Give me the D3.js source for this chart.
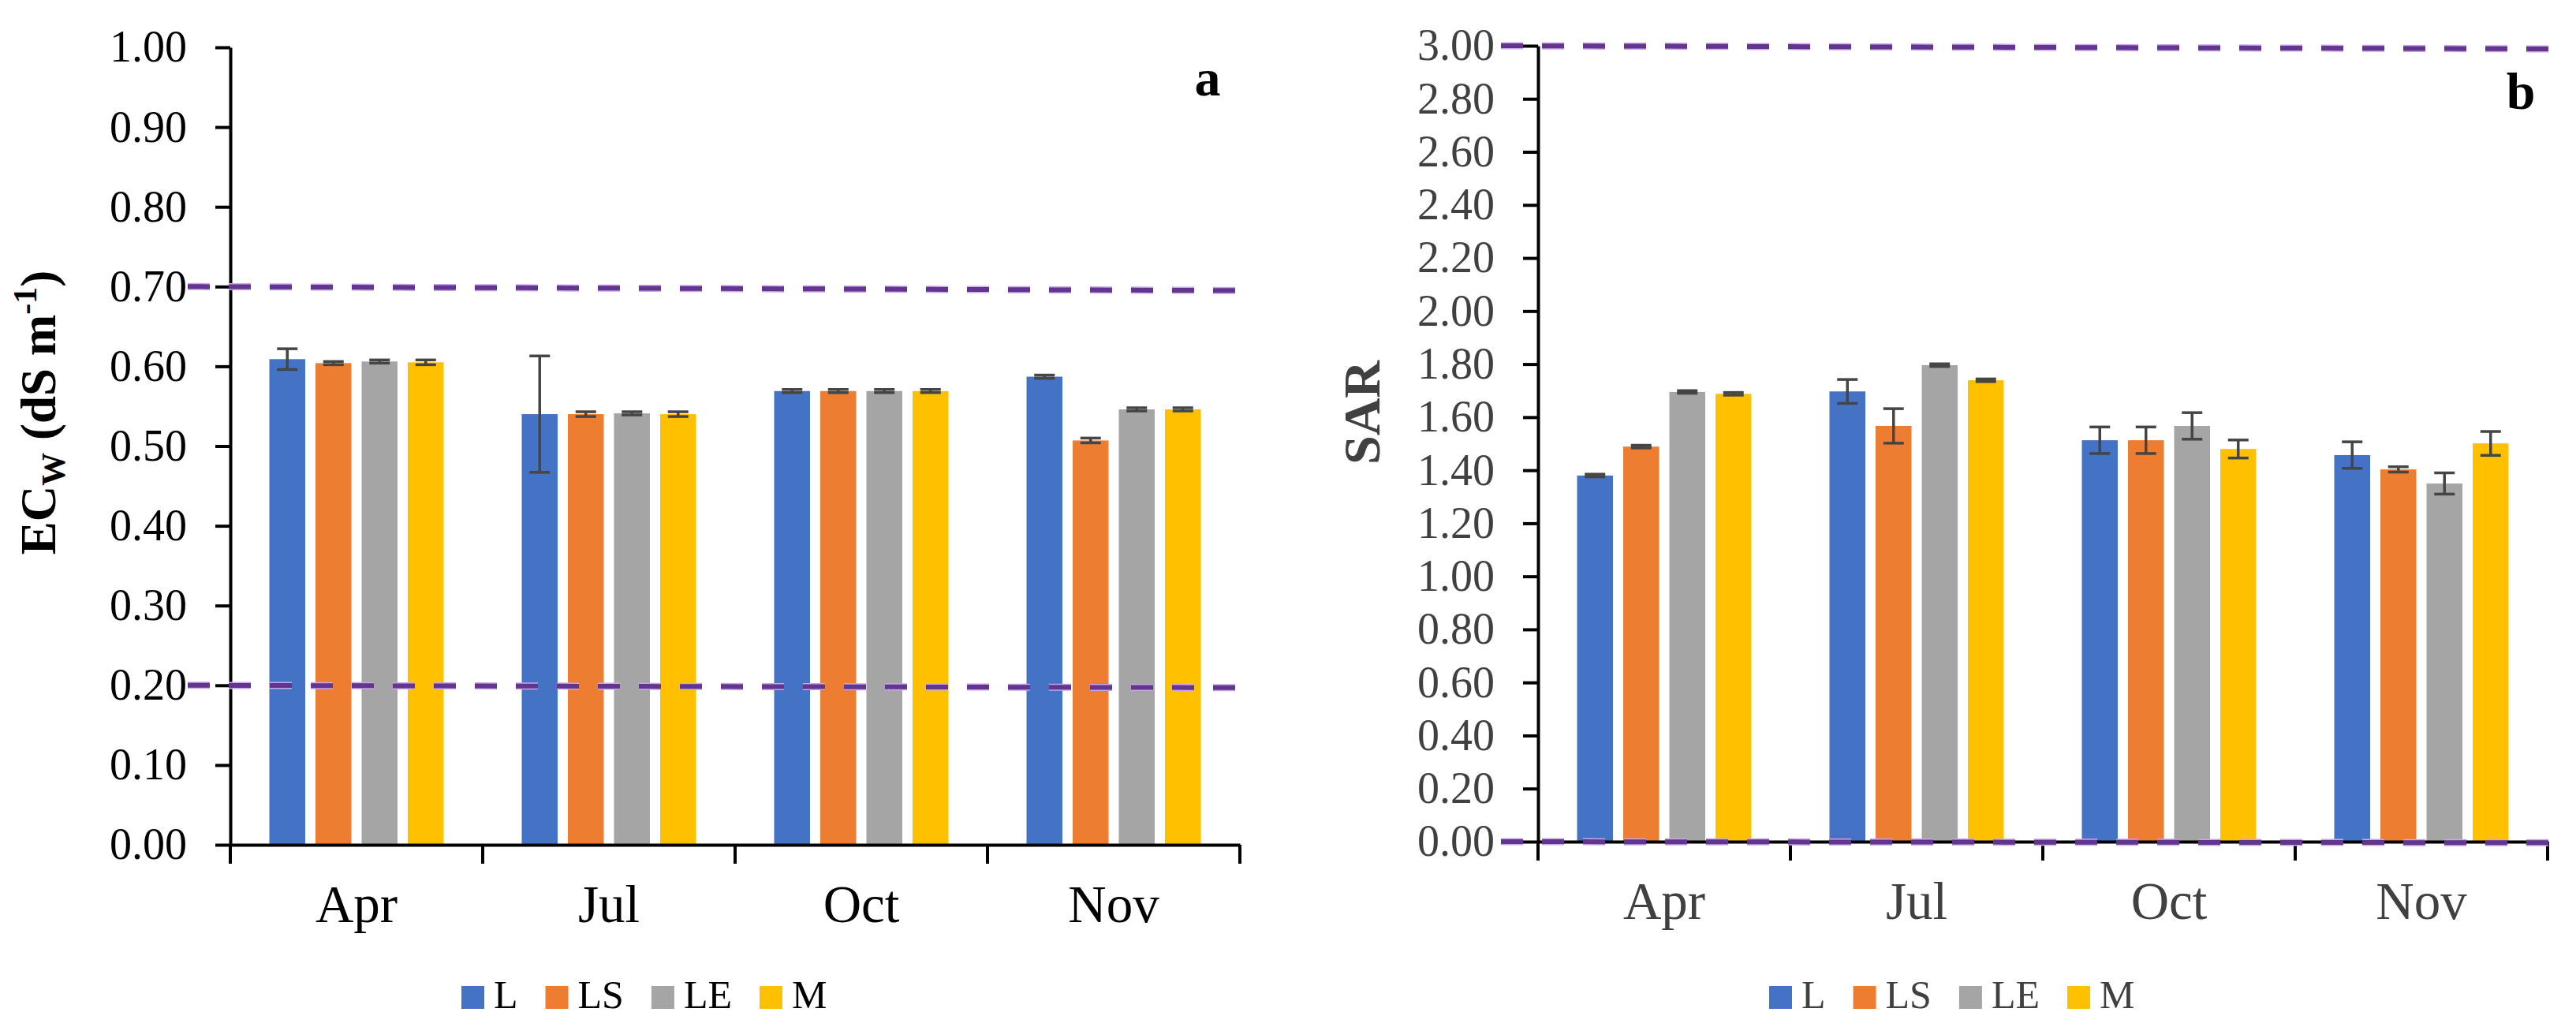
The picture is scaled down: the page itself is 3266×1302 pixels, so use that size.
<!DOCTYPE html>
<html>
<head>
<meta charset="utf-8">
<script src="https://cdn.jsdelivr.net/npm/d3@7"></script>
<style>
  html, body { margin: 0; padding: 0; background: #fff; }
  svg { display: block; }
  text { font-family: "Liberation Serif", "Times New Roman", serif; }
</style>
</head>
<body>
<svg id="chart" width="3266" height="1302"></svg>
<script>
// ---------- data ----------
const months = ["Apr", "Jul", "Oct", "Nov"];
const seriesNames = ["L", "LS", "LE", "M"];
const seriesColors = ["#4472C4", "#ED7D31", "#A5A5A5", "#FFC000"];

// Panel a: ECw (dS m-1)
const ecL  = [0.609, 0.540, 0.569, 0.587];
const ecLS = [0.604, 0.540, 0.569, 0.507];
const ecLE = [0.606, 0.541, 0.569, 0.546];
const ecM  = [0.605, 0.540, 0.569, 0.546];
const ecErrL  = [0.013, 0.073, 0.002, 0.002];
const ecErrLS = [0.002, 0.003, 0.002, 0.003];
const ecErrLE = [0.002, 0.002, 0.002, 0.002];
const ecErrM  = [0.003, 0.003, 0.002, 0.002];
const ecTicks = [0, 0.1, 0.2, 0.3, 0.4, 0.5, 0.6, 0.7, 0.8, 0.9, 1.0];
const ecThresholds = [[0.700, 0.695], [0.200, 0.197]];

// Panel b: SAR
const sarL  = [1.380, 1.697, 1.513, 1.457];
const sarLS = [1.489, 1.567, 1.513, 1.403];
const sarLE = [1.695, 1.796, 1.567, 1.350];
const sarM  = [1.688, 1.739, 1.480, 1.501];
const sarErrL  = [0.005, 0.045, 0.050, 0.050];
const sarErrLS = [0.005, 0.065, 0.050, 0.010];
const sarErrLE = [0.005, 0.005, 0.050, 0.040];
const sarErrM  = [0.005, 0.005, 0.034, 0.045];
const sarTicks = [0, 0.2, 0.4, 0.6, 0.8, 1.0, 1.2, 1.4, 1.6, 1.8, 2.0, 2.2, 2.4, 2.6, 2.8, 3.0];
const sarThresholds = [[3.00, 2.988], [0.00, -0.004]];

// ---------- drawing ----------
const svg = d3.select("#chart");
svg.append("rect").attr("width", 3266).attr("height", 1302).attr("fill", "#fff");

function drawPanel(cfg) {
  const g = svg.append("g");
  const x = d3.scaleBand().domain(months).range([cfg.x0, cfg.x1]).paddingInner(0).paddingOuter(0);
  const xs = d3.scaleBand().domain(seriesNames).range([0, x.bandwidth()]).paddingInner(0.222).paddingOuter(0.846);
  const y = d3.scaleLinear().domain([0, cfg.yMax]).range([cfg.yBottom, cfg.yTop]);

  const rows = [];
  seriesNames.forEach((s, si) => {
    months.forEach((m, mi) => {
      rows.push({ s, m, v: cfg.values[si][mi], e: cfg.errors[si][mi], c: seriesColors[si] });
    });
  });

  // bars
  g.selectAll("rect.bar").data(rows).enter().append("rect")
    .attr("class", "bar")
    .attr("x", d => x(d.m) + xs(d.s))
    .attr("width", xs.bandwidth())
    .attr("y", d => y(d.v))
    .attr("height", d => y(0) - y(d.v))
    .attr("fill", d => d.c);

  // error bars
  const eg = g.selectAll("g.err").data(rows).enter().append("g").attr("class", "err")
    .attr("stroke", "#454545").attr("stroke-width", 3.5);
  const cx = d => x(d.m) + xs(d.s) + xs.bandwidth() / 2;
  eg.append("line").attr("x1", cx).attr("x2", cx)
    .attr("y1", d => y(d.v + d.e)).attr("y2", d => y(d.v - d.e));
  eg.append("line").attr("x1", d => cx(d) - 13).attr("x2", d => cx(d) + 13)
    .attr("y1", d => y(d.v + d.e)).attr("y2", d => y(d.v + d.e));
  eg.append("line").attr("x1", d => cx(d) - 13).attr("x2", d => cx(d) + 13)
    .attr("y1", d => y(d.v - d.e)).attr("y2", d => y(d.v - d.e));

  // y axis
  const yAxis = d3.axisLeft(y).tickValues(cfg.ticks).tickFormat(d3.format(".2f"))
    .tickSize(19).tickSizeOuter(0).tickPadding(36);
  const ya = g.append("g").attr("transform", `translate(${cfg.x0},0)`).call(yAxis);
  ya.select(".domain").attr("stroke", "#000").attr("stroke-width", 4);
  ya.selectAll(".tick line").attr("stroke", "#000").attr("stroke-width", 4);
  ya.selectAll(".tick text").attr("font-size", 56).attr("fill", cfg.textColor)
    .attr("font-family", '"Liberation Serif", "Times New Roman", serif');

  // x axis
  const xAxis = d3.axisBottom(x).tickSize(0).tickSizeOuter(0).tickPadding(50);
  const xa = g.append("g").attr("transform", `translate(0,${y(0)})`).call(xAxis);
  xa.select(".domain").attr("stroke", "#000").attr("stroke-width", 4);
  xa.selectAll(".tick text").attr("font-size", 67).attr("fill", cfg.textColor)
    .attr("font-family", '"Liberation Serif", "Times New Roman", serif');
  // category boundary ticks
  const bounds = months.map(m => x(m)).concat([x(months[months.length - 1]) + x.bandwidth()]);
  g.selectAll("line.bound").data(bounds).enter().append("line")
    .attr("x1", d => d).attr("x2", d => d)
    .attr("y1", y(0)).attr("y2", y(0) + 24)
    .attr("stroke", "#000").attr("stroke-width", 4);

  // threshold dashed lines
  cfg.thresholds.forEach(t => {
    g.append("line")
      .attr("x1", cfg.dashX0).attr("x2", cfg.dashX1)
      .attr("y1", y(t[0])).attr("y2", y(t[1]))
      .attr("stroke", "#c7a6ea").attr("stroke-width", 9)
      .attr("stroke-dasharray", "28 24");
    g.append("line")
      .attr("x1", cfg.dashX0).attr("x2", cfg.dashX1)
      .attr("y1", y(t[0])).attr("y2", y(t[1]))
      .attr("stroke", "#62358f").attr("stroke-width", 6)
      .attr("stroke-dasharray", "28 24");
  });

  // y title
  const tt = g.append("text")
    .attr("transform", `translate(${cfg.titleX},${cfg.titleY}) rotate(-90)`)
    .attr("text-anchor", "middle")
    .attr("font-size", cfg.titleSize).attr("font-weight", "bold").attr("fill", cfg.textColor);
  cfg.title(tt);

  // panel letter
  g.append("text").attr("x", cfg.letterX).attr("y", cfg.letterY)
    .attr("text-anchor", "middle").attr("font-size", 66).attr("font-weight", "bold")
    .attr("fill", "#000").text(cfg.letter);

  // legend
  const lg = g.append("g").attr("transform", `translate(${cfg.legendX},${cfg.legendY})`);
  let cur = 0;
  seriesNames.forEach((s, i) => {
    lg.append("rect").attr("x", cur).attr("y", -28).attr("width", 29).attr("height", 29)
      .attr("fill", seriesColors[i]);
    const t = lg.append("text").attr("x", cur + 41).attr("y", 0)
      .attr("font-size", 50).attr("fill", cfg.textColor).text(s);
    cur += 41 + t.node().getComputedTextLength() + 35;
  });
}

drawPanel({
  x0: 292, x1: 1572, yTop: 60, yBottom: 1071, yMax: 1.0,
  ticks: ecTicks,
  values: [ecL, ecLS, ecLE, ecM],
  errors: [ecErrL, ecErrLS, ecErrLE, ecErrM],
  thresholds: ecThresholds,
  dashX0: 238, dashX1: 1584,
  textColor: "#000",
  titleX: 70, titleY: 523, titleSize: 63,
  title: t => {
    t.append("tspan").text("EC");
    t.append("tspan").attr("font-size", 42).attr("dy", 12).text("W");
    t.append("tspan").attr("dy", -12).text(" (dS m");
    t.append("tspan").attr("font-size", 42).attr("dy", -24).text("-1");
    t.append("tspan").attr("dy", 24).text(")");
  },
  letter: "a", letterX: 1531, letterY: 121,
  legendX: 585, legendY: 1278
});

drawPanel({
  x0: 1950, x1: 3230, yTop: 58, yBottom: 1067, yMax: 3.0,
  ticks: sarTicks,
  values: [sarL, sarLS, sarLE, sarM],
  errors: [sarErrL, sarErrLS, sarErrLE, sarErrM],
  thresholds: sarThresholds,
  dashX0: 1903, dashX1: 3250,
  textColor: "#404040",
  titleX: 1749, titleY: 523, titleSize: 66,
  title: t => { t.text("SAR"); },
  letter: "b", letterX: 3196, letterY: 138,
  legendX: 2243, legendY: 1278
});
</script>
</body>
</html>
